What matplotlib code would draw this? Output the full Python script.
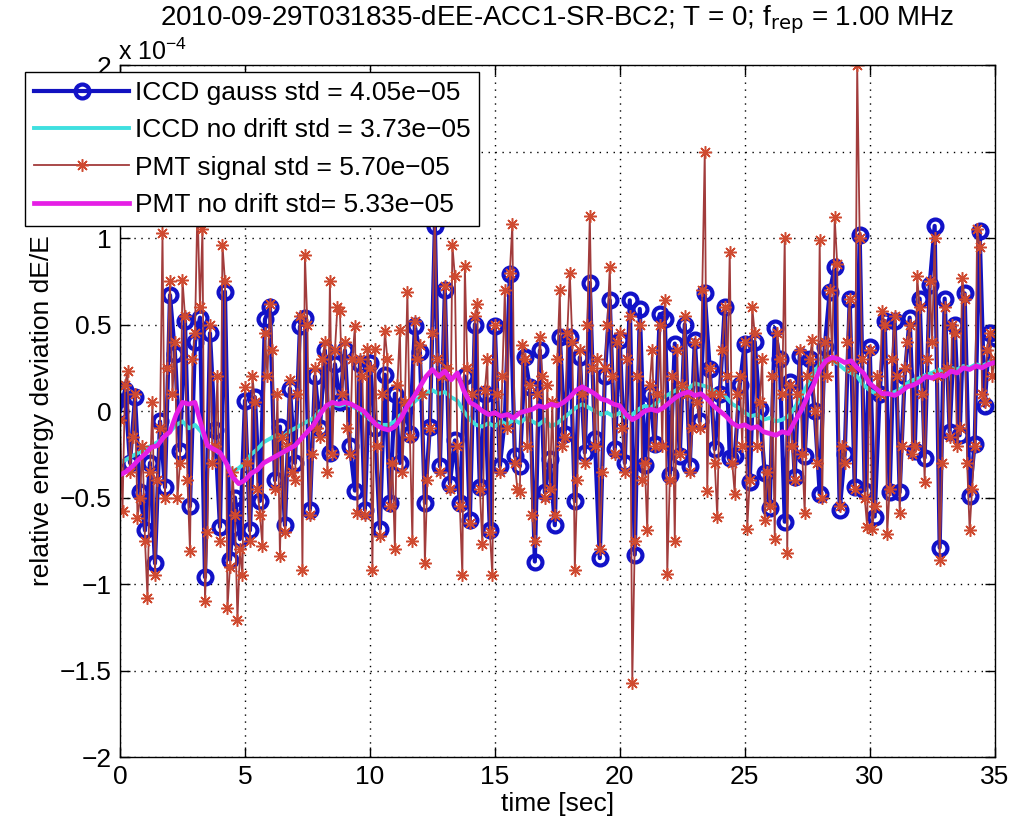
import numpy as np
import matplotlib
matplotlib.use("Agg")
import matplotlib.pyplot as plt

plt.rcParams['font.family'] = ['Liberation Sans', 'DejaVu Sans']

# ---------------- data (units of 1e-4) ----------------
dt_iccd = 0.2
iccd_gauss = [
    0.00, 0.12, -0.30, 0.08, -0.47, -0.69, -0.30, -0.88, -0.06, -0.44,
    0.67, 0.33, -0.23, 0.52, -0.55, 0.40, 0.54, -0.96, 0.45, -0.11,
    -0.67, 0.69, -0.86, -0.50, -0.74, 0.06, -0.69, 0.08, -0.52, 0.53,
    0.60, -0.40, -0.09, -0.66, 0.13, -0.30, 0.49, 0.54, -0.57, 0.20,
    -0.10, 0.35, -0.24, 0.27, 0.05, 0.35, -0.20, -0.46, 0.27, -0.57,
    0.28, -0.10, -0.68, 0.21, -0.53, 0.10, -0.30, 0.02, -0.13, 0.49,
    0.34, -0.53, -0.09, 1.07, -0.32, 0.70, -0.42, -0.17, -0.53, 0.20,
    -0.63, 0.50, -0.44, 0.10, -0.69, 0.49, -0.32, -0.05, 0.79, -0.26,
    -0.32, 0.31, 0.14, -0.87, 0.35, -0.47, -0.28, -0.66, 0.43, -0.13,
    0.43, -0.52, 0.31, -0.24, 0.74, -0.16, -0.85, 0.20, 0.64, -0.22,
    0.41, -0.30, 0.64, -0.83, 0.59, -0.31, 0.10, -0.19, 0.56, 0.53,
    -0.37, 0.39, -0.26, 0.50, -0.32, 0.41, -0.06, 0.68, 0.24, -0.22,
    0.10, 0.60, -0.27, -0.26, 0.15, 0.39, -0.41, 0.40, 0.01, -0.36,
    -0.56, 0.48, 0.30, -0.64, 0.17, -0.38, 0.32, -0.26, 0.30, 0.00,
    -0.48, 0.37, 0.69, 0.83, -0.57, -0.25, 0.65, -0.44, 1.02, -0.46,
    0.37, -0.61, 0.10, 0.52, -0.47, 0.52, -0.47, 0.20, 0.54, -0.23,
    0.65, -0.27, 0.73, 1.07, -0.79, 0.65, -0.12, 0.50, -0.14, 0.68,
    -0.49, -0.19, 1.04, 0.03, 0.45, 0.42,
]

dt_pmt = 0.1
pmt_signal = [
    -0.05, -0.58, 0.15, 0.23, -0.35, -0.15, 0.10, -0.62, -0.50, -0.20,
    -0.75, -1.08, -0.35, 0.05, -0.95, -0.40, -0.10, 1.03, -0.50, 0.25,
    0.75, 0.10, 0.40, -0.50, -0.30, 0.76, 0.55, -0.40, -0.81, 0.30,
    0.45, 1.20, 0.60, 1.05, -1.10, -0.70, 0.50, -0.30, -0.20, 0.20,
    -0.75, 0.96, 0.75, -1.14, -0.90, -0.35, -0.60, -1.21, -0.80, -0.95,
    0.14, -0.30, -0.75, 0.20, 0.05, -0.45, -0.60, -0.78, 0.45, 0.20,
    0.62, 0.35, -0.45, 0.10, -0.84, -0.15, -0.70, -0.20, 0.18, -0.35,
    -0.40, 0.10, 0.55, -0.92, 0.90, 0.50, -0.60, -0.25, 0.25, -0.10,
    -0.15, 0.30, 0.40, -0.35, 0.75, -0.25, 0.35, 0.60, 0.58, 0.10,
    0.40, -0.10, -0.25, 0.30, 0.49, -0.59, 0.30, 0.20, -0.60, 0.36,
    0.25, -0.92, 0.36, -0.20, -0.72, 0.10, 0.46, 0.30, -0.55, -0.30,
    -0.80, 0.15, 0.47, -0.35, 0.05, 0.69, -0.15, -0.75, 0.52, 0.30,
    0.38, 0.10, -0.88, -0.40, -0.10, 0.45, 1.15, 0.30, -0.35, 0.20,
    0.72, 0.25, -0.45, 0.96, 0.78, -0.20, -0.55, -0.95, 0.84, 0.25,
    -0.65, 0.10, 0.55, 0.62, -0.45, -0.77, 0.12, 0.30, -0.70, -0.95,
    0.50, 0.10, -0.35, 0.20, 0.70, -0.10, 0.80, 1.08, -0.30, -0.45,
    -0.47, 0.38, 0.30, -0.20, 0.15, -0.60, -0.75, 0.10, 0.43, 0.20,
    -0.50, 0.15, -0.45, 0.05, -0.60, 0.30, 0.70, -0.20, -0.15, 0.45,
    0.80, 0.40, -0.92, -0.40, 0.35, 0.10, -0.30, 0.50, 1.13, 0.25,
    -0.20, 0.30, -0.80, -0.35, 0.25, 0.50, 0.83, 0.20, -0.25, 0.40,
    0.45, -0.10, -0.35, 0.30, 0.55, -1.57, -0.75, 0.20, 0.50, -0.40,
    -0.30, -0.69, 0.15, 0.35, -0.20, 0.10, 0.50, -0.20, 0.64, -0.94,
    -0.40, 0.20, -0.75, 0.35, -0.25, 0.15, 0.55, 0.10, -0.35, -0.10,
    0.40, 0.05, -0.10, 0.70, 1.50, -0.46, 0.25, 0.10, -0.30, -0.61,
    0.10, 0.35, 0.60, 0.20, 0.92, -0.30, -0.48, 0.10, 0.20, -0.20,
    0.40, -0.68, -0.40, 0.60, 0.45, -0.20, 0.05, 0.30, -0.63, -0.35,
    -0.55, 0.20, -0.74, 0.45, 0.30, 0.10, 1.00, -0.82, 0.15, -0.20,
    -0.40, 0.10, 0.35, -0.25, -0.59, 0.20, 0.30, 0.41, 0.00, -0.30,
    0.99, -0.50, 0.40, 0.20, 0.70, 0.30, 1.12, 0.85, -0.55, -0.20,
    -0.30, 0.40, 0.65, 0.25, -0.45, 2.00, 1.00, 0.30, -0.50, -0.67,
    0.35, -0.68, -0.55, 0.20, 0.10, 0.58, 0.50, -0.71, -0.45, 0.30,
    0.55, 0.20, -0.59, -0.20, 0.25, 0.40, 0.50, -0.25, -0.20, 0.78,
    0.60, 0.10, -0.41, 0.30, 0.75, 0.40, 1.00, 0.20, -0.86, -0.30,
    0.60, 0.25, -0.15, 0.50, 0.45, -0.20, -0.10, 0.77, 0.65, -0.30,
    -0.69, -0.45, -0.20, 1.05, 0.95, 0.10, 0.05, 0.35, 0.45, 0.20, 0.30,
]

dt_drift = 0.25
iccd_nodrift = [
    -0.30, -0.28, -0.26, -0.24, -0.22, -0.20, -0.18, -0.15, -0.12, -0.08,
    -0.06, -0.10, -0.08, -0.12, -0.20, -0.22, -0.25, -0.30, -0.35, -0.33,
    -0.30, -0.25, -0.22, -0.18, -0.16, -0.14, -0.15, -0.12, -0.10, -0.08,
    -0.06, -0.04, 0.00, 0.02, 0.04, 0.03, 0.04, 0.03, 0.01, -0.02,
    -0.05, -0.07, -0.08, -0.08, -0.06, -0.02, 0.02, 0.05, 0.08, 0.10,
    0.12, 0.10, 0.11, 0.08, 0.06, 0.00, -0.05, -0.08, -0.09, -0.07,
    -0.09, -0.06, -0.08, -0.05, -0.07, -0.04, -0.06, -0.08, -0.05, -0.09,
    -0.07, -0.04, -0.01, 0.02, 0.04, 0.02, 0.00, -0.02, -0.01, -0.03,
    -0.01, -0.04, -0.02, 0.01, 0.03, 0.02, 0.05, 0.08, 0.10, 0.12,
    0.14, 0.13, 0.16, 0.15, 0.14, 0.12, 0.10, 0.08, 0.04, 0.02,
    -0.01, -0.03, -0.02, -0.05, -0.04, -0.06, -0.05, -0.03, 0.02, 0.08,
    0.15, 0.22, 0.27, 0.30, 0.29, 0.27, 0.24, 0.22, 0.20, 0.15,
    0.12, 0.10, 0.09, 0.10, 0.11, 0.13, 0.16, 0.18, 0.19, 0.21,
    0.22, 0.24, 0.22, 0.25, 0.24, 0.26, 0.25, 0.27, 0.26, 0.28, 0.29,
]
pmt_nodrift = [
    -0.37, -0.35, -0.32, -0.28, -0.25, -0.21, -0.20, -0.15, -0.12, -0.02,
    0.05, 0.04, 0.05, -0.08, -0.20, -0.22, -0.24, -0.30, -0.38, -0.42,
    -0.40, -0.36, -0.34, -0.30, -0.28, -0.26, -0.24, -0.22, -0.20, -0.16,
    -0.12, -0.08, -0.02, 0.03, 0.05, 0.04, 0.05, 0.04, 0.02, 0.00,
    -0.04, -0.08, -0.10, -0.11, -0.09, -0.04, 0.03, 0.08, 0.14, 0.20,
    0.24, 0.20, 0.23, 0.18, 0.22, 0.12, 0.05, 0.03, 0.00, -0.02,
    -0.01, -0.03, -0.02, -0.04, -0.01, 0.00, 0.01, 0.03, 0.02, 0.04,
    0.03, 0.05, 0.08, 0.12, 0.14, 0.12, 0.10, 0.07, 0.06, 0.04,
    0.03, -0.02, -0.05, -0.03, 0.00, 0.01, 0.00, 0.02, 0.05, 0.08,
    0.10, 0.11, 0.09, 0.10, 0.07, 0.03, 0.00, -0.03, -0.07, -0.09,
    -0.08, -0.10, -0.09, -0.12, -0.13, -0.14, -0.12, -0.13, -0.06, 0.00,
    0.08, 0.15, 0.24, 0.29, 0.31, 0.30, 0.28, 0.29, 0.25, 0.22,
    0.16, 0.13, 0.10, 0.10, 0.09, 0.11, 0.14, 0.15, 0.17, 0.20,
    0.19, 0.21, 0.20, 0.23, 0.22, 0.25, 0.24, 0.26, 0.25, 0.27, 0.28,
]

labels = [
    "ICCD gauss std = 4.05e\u221205",
    "ICCD no drift std = 3.73e\u221205",
    "PMT signal std = 5.70e\u221205",
    "PMT no drift std= 5.33e\u221205",
]
title = "2010-09-29T031835-dEE-ACC1-SR-BC2; T = 0; f$_{\\rm rep}$ = 1.00 MHz"
xticks = [0, 5, 10, 15, 20, 25, 30, 35]
yticks = [-2, -1.5, -1, -0.5, 0, 0.5, 1, 1.5, 2]
yticklabels = ['\u22122', '\u22121.5', '\u22121', '\u22120.5', '0', '0.5', '1', '1.5', '2']

# ---------------- figure ----------------
fig = plt.figure(figsize=(10.17, 8.27), dpi=100)
ax = fig.add_axes([0.118, 0.0846, 0.860, 0.8368])

t_iccd = np.arange(len(iccd_gauss)) * dt_iccd
t_pmt = np.arange(len(pmt_signal)) * dt_pmt
t_drift_i = np.arange(len(iccd_nodrift)) * dt_drift
t_drift_p = np.arange(len(pmt_nodrift)) * dt_drift

h1, = ax.plot(t_iccd, iccd_gauss, '-', color='#1212c0', lw=3.0,
              marker='o', ms=10, mfc='none', mec='#1212c8', mew=3.0, label=labels[0])
h2, = ax.plot(t_drift_i, iccd_nodrift, '-', color='#3fe0e0', lw=2.8, label=labels[1])
h3, = ax.plot(t_pmt, pmt_signal, '-', color='#a23c3c', lw=1.3,
              marker=(8, 2, 0), ms=9, mec='#cf4a30', mew=1.1, label=labels[2])
h4, = ax.plot(t_drift_p, pmt_nodrift, '-', color='#e51ee5', lw=3.4, label=labels[3])

ax.set_xlim(0, 35)
ax.set_ylim(-2, 2)
ax.set_xticks(xticks)
ax.set_yticks(yticks)
ax.set_yticklabels(yticklabels)
ax.tick_params(direction='in', length=7, width=1, top=True, right=True,
               labelsize=19, pad=6)
ax.grid(True, linestyle=(0, (1, 4)), color='black', linewidth=1.0)
for s in ax.spines.values():
    s.set_linewidth(1.0)

ax.set_xlabel("time [sec]", fontsize=19, labelpad=2)
ax.set_ylabel("relative energy deviation dE/E", fontsize=19, labelpad=4)
fig.text(557 / 1017, 1 - 25 / 827, title, fontsize=20, ha='center', va='baseline')
fig.text(118 / 1017, 1 - 60 / 827, "x 10$^{\\mathregular{-4}}$", fontsize=18,
         ha='left', va='baseline')

leg = ax.legend(handles=[h1, h2, h3, h4], loc='upper left',
                bbox_to_anchor=(25 / 1017, 1 - 72 / 827), bbox_transform=fig.transFigure,
                borderaxespad=0, fontsize=19, frameon=True, fancybox=False,
                edgecolor='black', framealpha=1, handlelength=3.6,
                handletextpad=0.2, labelspacing=0.5, borderpad=0.35)
leg.get_frame().set_linewidth(1.0)

fig.savefig("out.png", dpi=100)
